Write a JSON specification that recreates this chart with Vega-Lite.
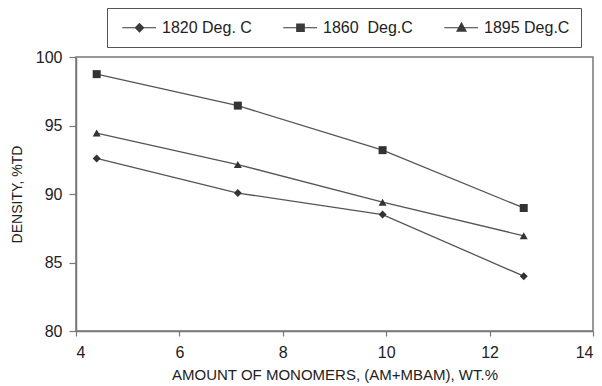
{
  "$schema": "https://vega.github.io/schema/vega-lite/v6.json",
  "autosize": "none",
  "width": 517,
  "height": 274,
  "padding": {"left": 76, "top": 57, "right": 9, "bottom": 55},
  "background": "white",
  "config": {
    "font": "Liberation Sans",
    "view": {"stroke": "#777", "strokeWidth": 1.5},
    "axis": {
      "grid": false,
      "domainColor": "#777",
      "domainWidth": 1.5,
      "tickColor": "#777",
      "tickWidth": 1.2,
      "labelFont": "Liberation Sans",
      "labelFontSize": 16,
      "labelColor": "#222",
      "titleFont": "Liberation Sans",
      "titleFontWeight": "normal",
      "titleColor": "#222"
    }
  },
  "data": {
    "values": [
      {"series": "1820 Deg. C", "x": 4.4, "y": 92.6},
      {"series": "1820 Deg. C", "x": 7.13, "y": 90.07},
      {"series": "1820 Deg. C", "x": 9.93, "y": 88.5},
      {"series": "1820 Deg. C", "x": 12.66, "y": 84.0},
      {"series": "1860 Deg.C", "x": 4.4, "y": 98.75},
      {"series": "1860 Deg.C", "x": 7.13, "y": 96.45},
      {"series": "1860 Deg.C", "x": 9.93, "y": 93.2},
      {"series": "1860 Deg.C", "x": 12.66, "y": 88.98},
      {"series": "1895 Deg.C", "x": 4.4, "y": 94.45},
      {"series": "1895 Deg.C", "x": 7.13, "y": 92.15},
      {"series": "1895 Deg.C", "x": 9.93, "y": 89.4},
      {"series": "1895 Deg.C", "x": 12.66, "y": 86.95}
    ]
  },
  "encoding": {
    "x": {
      "field": "x",
      "type": "quantitative",
      "scale": {"domain": [4, 14], "nice": false, "zero": false},
      "axis": {
        "values": [4, 6, 8, 10, 12, 14],
        "title": "AMOUNT OF MONOMERS, (AM+MBAM), WT.%",
        "titleFontSize": 15,
        "titleX": 258.5,
        "titleY": 48,
        "titleBaseline": "alphabetic",
        "titleAnchor": "middle",
        "tickSize": 5,
        "labelPadding": 8
      }
    },
    "y": {
      "field": "y",
      "type": "quantitative",
      "scale": {"domain": [80, 100], "nice": false, "zero": false},
      "axis": {
        "values": [80, 85, 90, 95, 100],
        "title": "DENSITY, %TD",
        "titleFontSize": 14,
        "titleX": -59,
        "titleY": 137,
        "titleAngle": -90,
        "titleAlign": "center",
        "titleBaseline": "middle",
        "tickSize": 7,
        "labelPadding": 7
      }
    }
  },
  "layer": [
    {
      "mark": {"type": "line", "color": "#555", "strokeWidth": 1.3},
      "encoding": {"detail": {"field": "series"}}
    },
    {
      "mark": {"type": "point", "filled": true, "color": "#333", "opacity": 1, "size": 64},
      "encoding": {
        "shape": {
          "field": "series",
          "type": "nominal",
          "scale": {"domain": ["1820 Deg. C", "1860 Deg.C", "1895 Deg.C"], "range": ["diamond", "square", "triangle-up"]},
          "legend": null
        }
      }
    },
    {
      "transform": [{"filter": "datum.x < 0"}],
      "mark": {"type": "point", "filled": false, "color": "#3a3a3a", "opacity": 1, "strokeWidth": 1.2},
      "encoding": {
        "shape": {
          "field": "series",
          "type": "nominal",
          "scale": {
            "domain": ["1820 Deg. C", "1860 Deg.C", "1895 Deg.C"],
            "range": [
              "M-2.3,0L2.2,0M0,-0.55L0.55,0L0,0.55L-0.55,0ZM0,-0.42L0.42,0L0,0.42L-0.42,0ZM0,-0.29L0.29,0L0,0.29L-0.29,0ZM0,-0.16L0.16,0L0,0.16L-0.16,0ZM0,-0.05L0.05,0L0,0.05L-0.05,0Z",
              "M-2.3,0L2.2,0M-0.5,-0.5L0.5,-0.5L0.5,0.5L-0.5,0.5ZM-0.37,-0.37L0.37,-0.37L0.37,0.37L-0.37,0.37ZM-0.24,-0.24L0.24,-0.24L0.24,0.24L-0.24,0.24ZM-0.11,-0.11L0.11,-0.11L0.11,0.11L-0.11,0.11Z",
              "M-2.3,0L2.2,0M0,-0.62L0.6,0.45L-0.6,0.45ZM0,-0.442L0.45,0.361L-0.45,0.361ZM0,-0.264L0.3,0.272L-0.3,0.272ZM0,-0.085L0.15,0.182L-0.15,0.182Z"
            ]
          },
          "legend": {
            "title": null,
            "orient": "none",
            "legendX": 31,
            "legendY": -49,
            "direction": "horizontal",
            "columns": 3,
            "padding": 11,
            "strokeColor": "#555",
            "symbolSize": 225,
            "symbolOffset": 13,
            "symbolOpacity": 1,
            "symbolStrokeColor": "#3a3a3a",
            "symbolStrokeWidth": 1.2,
            "labelOffset": 14,
            "labelFontSize": 16,
            "labelFont": "Liberation Sans",
            "labelColor": "#222",
            "labelExpr": "datum.label == '1860 Deg.C' ? '1860\u00a0 Deg.C' : datum.label",
            "columnPadding": 27,
            "encode": {
              "legend": {"update": {"strokeWidth": {"value": 1.5}}}
            }
          }
        }
      }
    }
  ],
  "resolve": {"scale": {"shape": "independent"}}
}
